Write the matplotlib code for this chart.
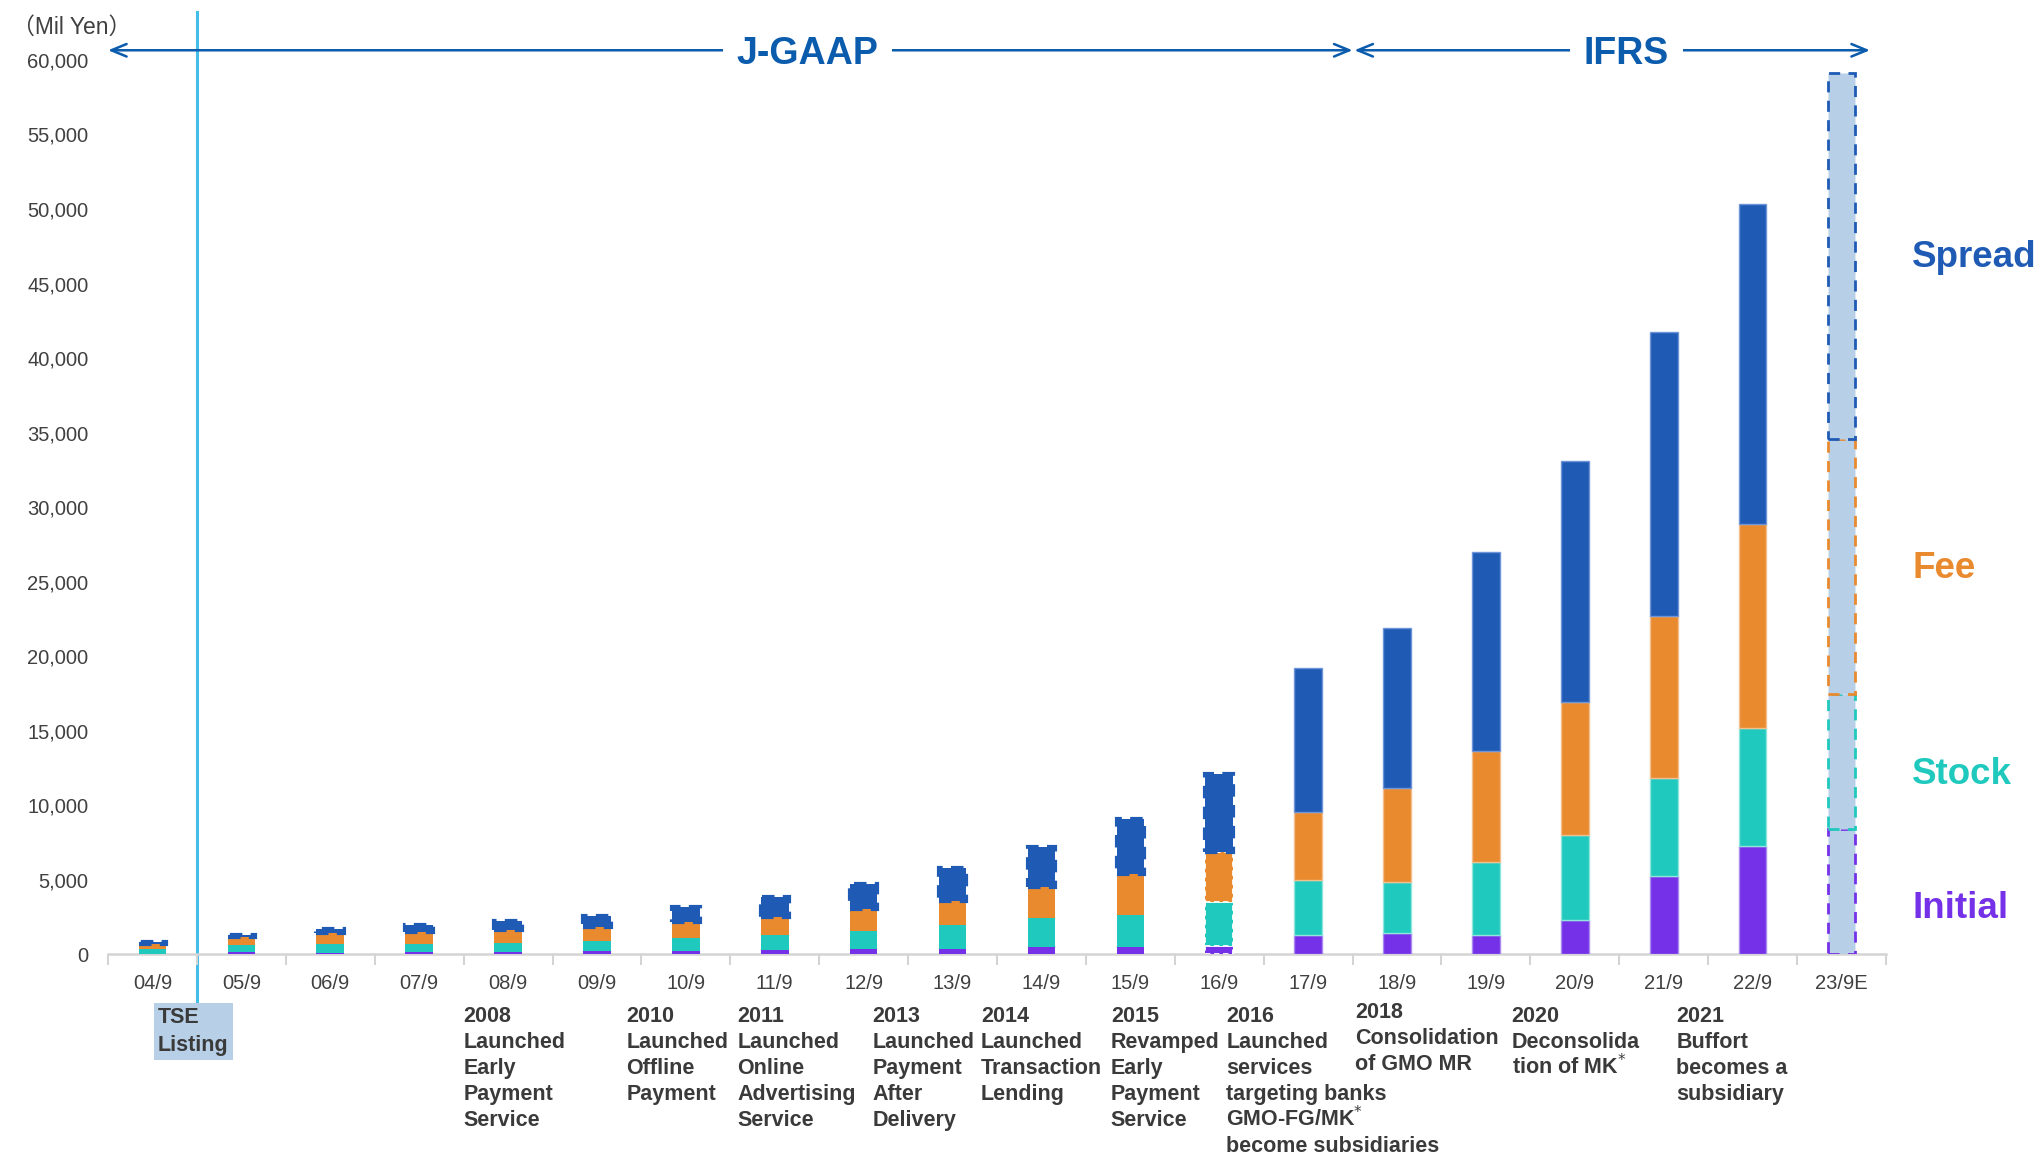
import matplotlib
matplotlib.use("Agg")
import matplotlib.pyplot as plt
import numpy as np
from matplotlib.ticker import FuncFormatter
from matplotlib.transforms import blended_transform_factory

plt.rcParams['font.family'] = ['Liberation Sans', 'DejaVu Sans']

# revenue by segment, Mil Yen (fiscal years ending September)
periods = ['04/9', '05/9', '06/9', '07/9', '08/9', '09/9', '10/9', '11/9', '12/9', '13/9',
           '14/9', '15/9', '16/9', '17/9', '18/9', '19/9', '20/9', '21/9', '22/9', '23/9E']
initial = [40, 156, 112, 156, 156, 201, 246, 291, 358, 380,
           510, 470, 570, 1274, 1429, 1294, 2321, 5252, 7284, 8384]
stock = [315, 470, 559, 559, 604, 693, 850, 984, 1207, 1565,
         1945, 2166, 2910, 3689, 3420, 4917, 5680, 6572, 7894, 9074]
fee = [335, 514, 738, 805, 872, 962, 1095, 1252, 1476, 1655,
       2079, 2730, 3400, 4581, 6326, 7404, 8941, 10866, 13682, 17083]
spread = [115, 157, 268, 448, 626, 715, 962, 1341, 1677, 2169,
          2683, 3689, 5215, 9638, 10710, 13347, 16143, 19028, 21509, 24589]

seg_names = ['Initial', 'Stock', 'Fee', 'Spread']
seg_colors = ['#7531e8', '#20c9bd', '#e98a2f', '#1f5bb5']
seg_edges = ['#a98af0', '#8fe6dd', '#f3bf8f', '#6f95d8']

milestones = [
    (3.5, '2008\nLaunched\nEarly\nPayment\nService'),
    (5.33, '2010\nLaunched\nOffline\nPayment'),
    (6.58, '2011\nLaunched\nOnline\nAdvertising\nService'),
    (8.1, '2013\nLaunched\nPayment\nAfter\nDelivery'),
    (9.32, '2014\nLaunched\nTransaction\nLending'),
    (10.78, '2015\nRevamped\nEarly\nPayment\nService'),
    (12.08, '2016\nLaunched\nservices\ntargeting banks\nGMO-FG/MK$^{*}$\nbecome subsidiaries'),
    (13.53, '2018\nConsolidation\nof GMO MR'),
    (15.29, '2020\nDeconsolida\ntion of MK$^{*}$'),
    (17.14, '2021\nBuffort\nbecomes a\nsubsidiary'),
]

fig = plt.figure(figsize=(20.42, 11.53), dpi=100)
ax = fig.add_axes([0.0529, 0.1723, 0.8707, 0.7757])

x = np.arange(len(periods))
w = 0.31
n_old = 13  # 04/9 .. 16/9 drawn with the old dashed outline
bottom = np.zeros(len(periods))
for vals, name, col, ecol in zip([initial, stock, fee, spread], seg_names, seg_colors, seg_edges):
    vals = np.array(vals, dtype=float)
    for i in range(len(periods)):
        if i == len(periods) - 1:
            ax.bar(x[i], vals[i], w, bottom=bottom[i], color='#b8d0e7',
                   edgecolor=col, linewidth=2, linestyle=(0, (4, 3)), zorder=3)
        elif i < n_old:
            if name == 'Spread':
                ax.bar(x[i], vals[i], w, bottom=bottom[i], color=col,
                       edgecolor=col, linewidth=3, linestyle=(0, (3, 2)), zorder=3)
            elif i == n_old - 1:
                ax.bar(x[i], vals[i], w, bottom=bottom[i], color=col,
                       edgecolor='white', linewidth=1.3, linestyle=(0, (3, 2)), zorder=3)
            else:
                ax.bar(x[i], vals[i], w, bottom=bottom[i], color=col,
                       linewidth=0, zorder=3)
        else:
            ax.bar(x[i], vals[i], w, bottom=bottom[i], color=col,
                   edgecolor=ecol, linewidth=1, zorder=3)
    bottom += vals

ax.set_xlim(-0.5, len(periods) - 0.5)
ax.set_ylim(0, 60000)
ax.set_yticks(np.arange(0, 60001, 5000))
ax.yaxis.set_major_formatter(FuncFormatter(lambda v, p: f'{int(v):,}'))
ax.set_xticks(x)
ax.set_xticklabels(periods)
ax.set_xticks(np.arange(-0.5, len(periods), 1), minor=True)
ax.tick_params(axis='y', length=0, pad=14, labelsize=14.5, labelcolor='#404040')
ax.tick_params(axis='x', which='major', length=0, pad=14, labelsize=14.5, labelcolor='#404040')
ax.tick_params(axis='x', which='minor', length=8, width=1.5, color='#d4d4d4')
for s in ['top', 'right', 'left']:
    ax.spines[s].set_visible(False)
ax.spines['bottom'].set_color('#d4d4d4')
ax.spines['bottom'].set_linewidth(1.8)

# listing date marker
trans = blended_transform_factory(ax.transData, ax.transAxes)
ax.plot([0.5, 0.5], [-0.06, 1.0535], color='#45bde9', lw=2.2, transform=trans,
        clip_on=False, zorder=1)

# accounting standard arrows
acol = '#0b5cad'
ya = 60650
for x0, x1 in [(-0.5, 13.5), (13.52, 19.32)]:
    ax.annotate('', xy=(x1, ya), xytext=(x0, ya), annotation_clip=False,
                arrowprops=dict(arrowstyle='<->,head_length=1.1,head_width=0.45', color=acol,
                                lw=1.8, shrinkA=0, shrinkB=0))
for xt, label in [(7.37, 'J-GAAP'), (16.58, 'IFRS')]:
    ax.text(xt, ya, label, fontsize=27, fontweight='bold', color=acol, ha='center',
            va='center_baseline', clip_on=False,
            bbox=dict(facecolor='white', edgecolor='none', pad=10))

fig.text(12 / 2042, 1 - 27 / 1153, '（Mil Yen）', fontsize=16.5, color='#404040', va='center',
         family=['Liberation Sans', 'Noto Sans CJK JP'])

# segment labels on the right
for name, col, yf in zip(seg_names, seg_colors, [908, 775, 569, 257]):
    fig.text(1912 / 2042, 1 - yf / 1153, name, fontsize=26.5, fontweight='bold',
             color=col, va='center', ha='left')

# milestones below the axis, one baseline per line for even spacing
ftrans = blended_transform_factory(ax.transData, fig.transFigure)
line_h = 26 / 1153
ax.text(0.06, 1 - 1007 / 1153, 'TSE\nListing', transform=ftrans, fontsize=15.5,
        fontweight='bold', color='#3a3a3a', va='top', ha='left', linespacing=1.45,
        bbox=dict(facecolor='#b8d0e7', edgecolor='none', pad=3))
for xm, txt in milestones:
    base0 = 1022 if not txt.startswith('2018') else 1018
    for k, line in enumerate(txt.split('\n')):
        ax.text(xm, 1 - base0 / 1153 - k * line_h, line, transform=ftrans, fontsize=15.5,
                fontweight='bold', color='#3a3a3a', va='baseline', ha='left')

fig.savefig('out.png', dpi=100, facecolor='white')
